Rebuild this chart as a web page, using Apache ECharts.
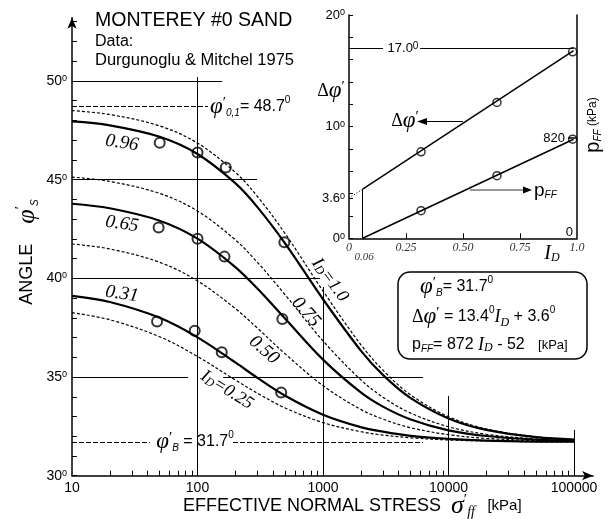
<!DOCTYPE html>
<html>
<head>
<meta charset="utf-8">
<script src="https://cdn.jsdelivr.net/npm/echarts@6/dist/echarts.min.js"></script>
<style>html,body{margin:0;padding:0;background:#fff}#main{width:609px;height:523px}</style>
</head>
<body>
<div id="main"></div>
<script>
const stress=[10,20,50,100,200,300,500,1000,2000,3000,5000,10000,20000,50000,100000];
// friction angle curves, one per relative density I_D
const phiD100=[48.50,48.30,47.72,46.85,45.37,44.15,42.26,39.36,36.64,35.35,34.09,32.99,32.37,31.97,31.84];
const phiD96=[47.95,47.75,47.17,46.30,44.82,43.61,41.76,38.94,36.34,35.11,33.93,32.90,32.32,31.95,31.83];
const phiD75=[45.13,44.91,44.30,43.41,41.95,40.81,39.16,36.83,34.86,33.98,33.17,32.48,32.10,31.86,31.78];
const phiD65=[43.78,43.55,42.92,42.01,40.57,39.48,37.95,35.88,34.22,33.50,32.85,32.30,32.01,31.83,31.76];
const phiD50=[41.74,41.49,40.81,39.87,38.47,37.48,36.17,34.56,33.36,32.87,32.43,32.08,31.89,31.78,31.74];
const phiD31=[39.11,38.80,38.00,37.01,35.74,34.96,34.05,33.09,32.46,32.23,32.02,31.87,31.78,31.73,31.72];
const phiD25=[38.26,37.90,37.04,36.04,34.85,34.18,33.43,32.69,32.23,32.06,31.92,31.81,31.76,31.72,31.71];
// test data (Durgunoglu & Mitchel)
const test96X=[50,100,168,492], test96Y=[46.87,46.37,45.61,41.83];
const test65X=[49,100,164,474], test65Y=[42.57,42.00,41.10,37.94];
const test31X=[47.6,95,156,464], test31Y=[37.81,37.35,36.26,34.21];
// inset: I_D vs delta phi and p_FF
const idTest=[0.316,0.649,0.981];
const dPhiTest=[7.75,12.17,16.7];
const pffTest=[226,513,812];
const dPhiFitX=[0.06,0.985], dPhiFitY=[4.4,16.8];
const dPhiExtX=[0,0.06], dPhiExtY=[3.6,4.4];
const pffFitX=[0.06,0.985], pffFitY=[0,812];
// tick labels
const xLabels=[10,100,1000,10000,100000];
const yLabels=[30,35,40,45,50];
const insetXLabels={0:'0',0.25:'0.25',0.5:'0.50',0.75:'0.75',1:'1.0'};
const insetYLabels=[0,3.6,10,20];

const SANS='"Liberation Sans", Arial, sans-serif';
const SERIF='"Liberation Serif", "Times New Roman", serif';
const R={
  n:{fontFamily:SANS,fontSize:16,color:'#000'},
  k:{fontFamily:SANS,fontSize:13,color:'#000'},
  sup:{fontFamily:SANS,fontSize:10,color:'#000',verticalAlign:'top'},
  phi:{fontFamily:SERIF,fontStyle:'italic',fontSize:23,color:'#000'},
  pr:{fontFamily:SERIF,fontSize:15,color:'#000',verticalAlign:'top'},
  sub:{fontFamily:SANS,fontStyle:'italic',fontSize:10,color:'#000',verticalAlign:'bottom'},
  d:{fontFamily:SERIF,fontSize:18,color:'#000'},
  it:{fontFamily:SERIF,fontStyle:'italic',fontSize:18,color:'#000'},
  itsub:{fontFamily:SERIF,fontStyle:'italic',fontSize:12,color:'#000',verticalAlign:'bottom'}
};

let chart=echarts.init(document.getElementById('main'),null,{renderer:'canvas'});

function zip(xs,ys){return xs.map((x,i)=>[x,ys[i]]);}
function curve(ys,dashed){
  return {type:'line',xAxisIndex:0,yAxisIndex:0,data:zip(stress,ys),showSymbol:false,smooth:0.35,silent:true,z:3,
    lineStyle:dashed?{color:'#000',width:1.2,type:[3,2]}:{color:'#000',width:2.2}};
}
function pts(xs,ys,xi,yi,size,bw){
  return {type:'scatter',xAxisIndex:xi,yAxisIndex:yi,data:zip(xs,ys),symbol:'circle',symbolSize:size,silent:true,z:6,
    itemStyle:{color:'rgba(0,0,0,0)',borderColor:'#000',borderWidth:bw}};
}
function seg(x1,y1,x2,y2){return [{coord:[x1,y1]},{coord:[x2,y2]}];}
function txt(x,y,text,extra,rot){
  return {type:'text',x:x,y:y,rotation:rot||0,z:20,style:Object.assign({text:text,rich:R,fill:'#000',align:'left',verticalAlign:'middle'},extra||{})};
}
function lbl(x,y,text,rot){
  return txt(x,y,text,{fontFamily:SERIF,fontStyle:'italic',fontSize:19,align:'center'},rot);
}

let ticksX=[];
[10,100,1000,10000].forEach(d=>{for(let k=2;k<=9;k++)ticksX.push(d*k);});
let ticksY=[];
for(let v=30;v<=53;v++)ticksY.push(v);

const bigR=Object.assign({},R,{n:{fontFamily:SANS,fontSize:18,color:'#000'},k:{fontFamily:SANS,fontSize:15,color:'#000'},
  phi:{fontFamily:SERIF,fontStyle:'italic',fontSize:26,color:'#000'},itsub:{fontFamily:SERIF,fontStyle:'italic',fontSize:14,color:'#000',verticalAlign:'bottom'}});

let option={
  animation:false,
  backgroundColor:'#fff',
  grid:[
    {left:72,top:17.8,width:521,height:457.9},
    {left:349,top:15,width:228,height:223.3}
  ],
  xAxis:[
    {type:'log',logBase:10,gridIndex:0,min:10,max:141600,
      axisLine:{lineStyle:{color:'#000',width:1.5},symbol:['none','arrow'],symbolSize:[7,11]},
      axisTick:{customValues:ticksX,inside:true,length:5,lineStyle:{color:'#000',width:1}},
      axisLabel:{customValues:xLabels,formatter:v=>String(Math.round(v)),fontFamily:SANS,fontSize:14,color:'#000',margin:5},
      splitLine:{show:false},minorTick:{show:false}},
    {type:'value',gridIndex:1,min:0,max:1,
      axisLine:{lineStyle:{color:'#000',width:1.5}},
      axisTick:{customValues:[0.25,0.5,0.75],inside:true,length:5,lineStyle:{color:'#000'}},
      axisLabel:{customValues:[0,0.25,0.5,0.75,1],formatter:v=>insetXLabels[v],fontFamily:SERIF,fontStyle:'italic',fontSize:12,color:'#333',margin:4},
      splitLine:{show:false}}
  ],
  yAxis:[
    {type:'value',gridIndex:0,min:30,max:53.2,
      axisLine:{lineStyle:{color:'#000',width:1.5},symbol:['none','arrow'],symbolSize:[7,11]},
      axisTick:{customValues:ticksY,inside:true,length:5,lineStyle:{color:'#000'}},
      axisLabel:{customValues:yLabels,formatter:v=>'{a|'+v+'}{s|0}',margin:5,
        rich:{a:{fontFamily:SANS,fontSize:14,color:'#000'},s:{fontFamily:SANS,fontSize:9,color:'#000',verticalAlign:'top'}}},
      splitLine:{show:false}},
    {type:'value',gridIndex:1,min:0,max:20,
      axisLine:{lineStyle:{color:'#000',width:1.5}},
      axisTick:{customValues:[0,2,3.6,4,6,8,10,12,14,16,18,20],inside:true,length:4,lineStyle:{color:'#000'}},
      axisLabel:{customValues:insetYLabels,formatter:v=>'{a|'+v+'}{s|0}',margin:4,
        rich:{a:{fontFamily:SANS,fontSize:13,color:'#000'},s:{fontFamily:SANS,fontSize:9,color:'#000',verticalAlign:'top'}}},
      splitLine:{show:false}},
    {type:'value',gridIndex:1,position:'right',min:0,max:1830,
      axisLine:{show:true,lineStyle:{color:'#000',width:1.5}},
      axisTick:{customValues:[820],inside:true,length:9,lineStyle:{color:'#000',width:1.5}},
      axisLabel:{customValues:[0,820],inside:true,margin:4,
        formatter:v=>v===820?'{a|820}':'{b|0}',
        rich:{a:{fontFamily:SANS,fontSize:13,color:'#000',padding:[0,8,0,0]},b:{fontFamily:SANS,fontSize:13,color:'#000',padding:[0,0,12,0]}}},
      splitLine:{show:false}}
  ],
  series:[
    {type:'line',xAxisIndex:0,yAxisIndex:0,data:[],silent:true,
      markLine:{silent:true,symbol:'none',label:{show:false},lineStyle:{color:'#000',width:1,type:'solid'},
        data:[seg(10,50,157,50),seg(10,45,298,45),seg(10,40,946,40),seg(10,35,84,35),seg(160,35,6270,35),
          seg(100,30,100,50.2),seg(1000,30,1000,39.56),seg(10000,30,10000,34.04),seg(100000,30,100000,32.32)]}},
    {type:'line',xAxisIndex:0,yAxisIndex:0,data:[],silent:true,
      markLine:{silent:true,symbol:'none',label:{show:false},lineStyle:{color:'#000',width:1,type:[5,2]},
        data:[seg(10,48.7,121,48.7),seg(10,31.7,41.7,31.7),seg(192,31.7,6270,31.7)]}},
    curve(phiD100,true),curve(phiD96,false),curve(phiD75,true),curve(phiD65,false),
    curve(phiD50,true),curve(phiD31,false),curve(phiD25,true),
    pts(test96X,test96Y,0,0,10,2),pts(test65X,test65Y,0,0,10,2),pts(test31X,test31Y,0,0,10,2),
    {type:'line',xAxisIndex:1,yAxisIndex:1,data:zip(dPhiFitX,dPhiFitY),showSymbol:false,silent:true,
      lineStyle:{color:'#000',width:1.5},
      markLine:{silent:true,symbol:'none',label:{show:false},lineStyle:{color:'#000',width:1,type:'solid'},
        data:[seg(0,17,0.149,17),seg(0.312,17,0.985,17),seg(0.06,0,0.06,4.4)]}},
    {type:'line',xAxisIndex:1,yAxisIndex:1,data:zip(dPhiExtX,dPhiExtY),showSymbol:false,silent:true,
      lineStyle:{color:'#000',width:1,type:[1,2]}},
    {type:'line',xAxisIndex:1,yAxisIndex:2,data:zip(pffFitX,pffFitY),showSymbol:false,silent:true,
      lineStyle:{color:'#000',width:1.5}},
    pts(idTest,dPhiTest,1,1,8,1.5),pts(idTest,pffTest,1,2,8,1.5)
  ],
  graphic:[
    txt(95,21,'MONTEREY #0 SAND',{fontFamily:SANS,fontSize:19.5}),
    txt(95,42,'Data:',{fontFamily:SANS,fontSize:16}),
    txt(95,60,'Durgunoglu & Mitchel 1975',{fontFamily:SANS,fontSize:16.5}),
    txt(210,107,'{phi|φ}{pr|′}{sub|0,1}{n|= 48.7}{sup|0}'),
    txt(195,442,'{phi|φ}{pr|′}{sub|B}{n| = 31.7}{sup|0}',{align:'center'}),
    txt(27,252,'{n|ANGLE    }{phi|φ}{pr|′}{sub|S}',{align:'center',rich:bigR},Math.PI/2),
    txt(183,506,'{n|EFFECTIVE NORMAL STRESS  }{phi|σ}{pr|′}{itsub|ff}{k|   [kPa]}',{rich:bigR}),
    lbl(122,143,'0.96',-0.15),
    lbl(122,224,'0.65',-0.15),
    lbl(122,294,'0.31',-0.15),
    lbl(330,280,'{it|I}{itsub|D}{it|=1.0}',-0.93),
    lbl(306,312,'0.75',-0.84),
    lbl(264,350,'0.50',-0.72),
    lbl(227,390,'{it|I}{itsub|D}{it|=0.25}',-0.56),
    {type:'rect',z:15,shape:{x:398,y:272,width:189,height:87,r:12},style:{fill:'#fff',stroke:'#000',lineWidth:1.5}},
    txt(420,287,'{phi|φ}{pr|′}{sub|B}{n|= 31.7}{sup|0}'),
    txt(412,317,'{d|Δ}{phi|φ}{pr|′}{n| = 13.4}{sup|0}{it|I}{itsub|D}{n| + 3.6}{sup|0}'),
    txt(412,345,'{n|p}{sub|FF}{n|= 872 }{it|I}{itsub|D}{n| - 52   }{k|[kPa]}'),
    // inset annotations
    txt(403,48,'{t|17.0}{sup|0}',{align:'center',rich:Object.assign({t:{fontFamily:SANS,fontSize:13,color:'#000'}},R)}),
    txt(331,91,'{d|Δ}{phi|φ}{pr|′}',{align:'center'}),
    txt(405,121,'{d|Δ}{phi|φ}{pr|′}',{align:'center'}),
    {type:'line',z:20,shape:{x1:463,y1:121.5,x2:424,y2:121.5},style:{stroke:'#000',lineWidth:1}},
    {type:'polygon',z:20,shape:{points:[[417,121.5],[427,118],[427,125]]},style:{fill:'#000'}},
    {type:'line',z:20,shape:{x1:470,y1:190,x2:525,y2:190},style:{stroke:'#333',lineWidth:1}},
    {type:'polygon',z:20,shape:{points:[[532,190],[523,186.5],[523,193.5]]},style:{fill:'#000'}},
    txt(534,191,'{n|p}{sub|FF}',{rich:Object.assign({},R,{n:{fontFamily:SANS,fontSize:19,color:'#000'}})}),
    txt(364,257,'0.06',{fontFamily:SERIF,fontStyle:'italic',fontSize:11,fill:'#333',align:'center'}),
    txt(552,254,'{it|I}{itsub|D}',{align:'center',rich:Object.assign({},R,{it:{fontFamily:SERIF,fontStyle:'italic',fontSize:20,color:'#000'}})}),
    txt(593,125,'{n|p}{sub|FF}{k| (kPa)}',{align:'center',rich:Object.assign({},R,{n:{fontFamily:SANS,fontSize:20,color:'#000'},k:{fontFamily:SANS,fontSize:12,color:'#000'}})},Math.PI/2)
  ]
};
chart.setOption(option);
</script>
</body>
</html>
